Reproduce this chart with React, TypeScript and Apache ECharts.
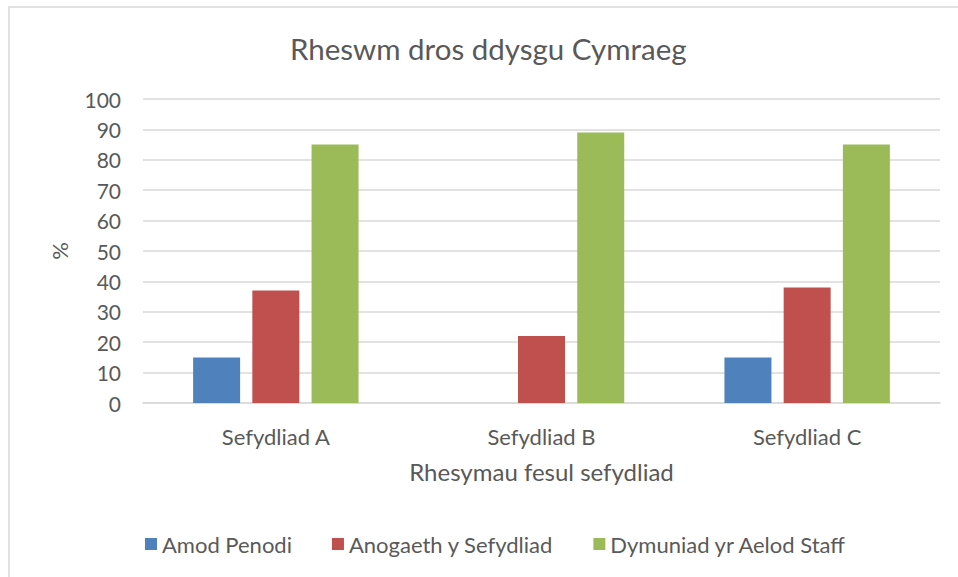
import React, { useEffect, useRef } from "react";
import * as echarts from "echarts";

const categories = ["Sefydliad A", "Sefydliad B", "Sefydliad C"];
const seriesNames = ["Amod Penodi", "Anogaeth y Sefydliad", "Dymuniad yr Aelod Staff"];
const amodPenodi = [15, 0, 15];
const anogaeth = [37, 22, 38];
const dymuniad = [85, 89, 85];
const colors = ["#4F81BD", "#C0504D", "#9BBB59"];

const FONT = "Lato";
const TXT = "#595959";

export default function App() {
  const ref = useRef<HTMLDivElement>(null);
  useEffect(() => {
    if (!ref.current) return;
    const chart = echarts.init(ref.current, null, { renderer: "svg" });
    const values = [amodPenodi, anogaeth, dymuniad];
    chart.setOption({
      animation: false,
      textStyle: { fontFamily: FONT, color: TXT },
      title: {
        text: "Rheswm dros ddysgu Cymraeg",
        left: 290,
        top: 33,
        padding: 0,
        textStyle: { fontFamily: FONT, fontSize: 29.5, fontWeight: "normal", color: TXT },
      },
      legend: {
        left: 140,
        top: 528,
        itemWidth: 12,
        itemHeight: 12,
        itemGap: 40,
        icon: "rect",
        textStyle: { fontFamily: FONT, fontSize: 22, color: TXT },
        data: seriesNames,
      },
      grid: { left: 143, right: 18, top: 99, bottom: 174, containLabel: false },
      xAxis: {
        type: "category",
        data: categories,
        name: "Rhesymau fesul sefydliad",
        nameLocation: "middle",
        nameGap: 56,
        nameTextStyle: { fontFamily: FONT, fontSize: 24, color: TXT },
        axisLine: { show: true, lineStyle: { color: "#D9D9D9", width: 1.5 } },
        axisTick: { show: false },
        axisLabel: { margin: 22, fontFamily: FONT, fontSize: 22, color: TXT },
      },
      yAxis: {
        type: "value",
        min: 0,
        max: 100,
        interval: 10,
        name: "%",
        nameLocation: "middle",
        nameGap: 73,
        nameRotate: 90,
        nameTextStyle: { fontFamily: FONT, fontSize: 22, color: TXT },
        axisLine: { show: false },
        axisTick: { show: false },
        axisLabel: { margin: 22, fontFamily: FONT, fontSize: 21, color: TXT },
        splitLine: { lineStyle: { color: "#D9D9D9", width: 1.5 } },
      },
      graphic: [
        {
          type: "polyline",
          shape: { points: [[9, 577], [9, 7], [958, 7]] },
          style: { stroke: "#D9D9D9", lineWidth: 1.5, fill: "none" },
          silent: true,
        },
      ],
      series: seriesNames.map((name, i) => ({
        name,
        type: "bar",
        data: values[i],
        barWidth: 47,
        barGap: "26%",
        itemStyle: { color: colors[i] },
      })),
    });
    return () => chart.dispose();
  }, []);
  return (
    <div
      ref={ref}
      style={{ position: "fixed", left: 0, top: 0, width: 958, height: 577, background: "#fff" }}
    />
  );
}
